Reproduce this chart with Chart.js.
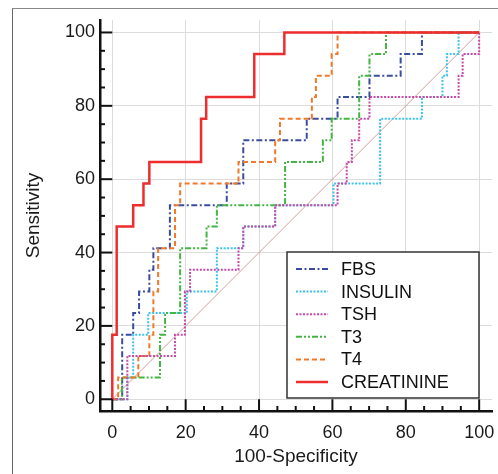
<!DOCTYPE html>
<html>
<head>
<meta charset="utf-8">
<script src="https://cdn.jsdelivr.net/npm/chart.js@4.4.0/dist/chart.umd.min.js"></script>
<style>
  body { margin: 0; background: #fff; }
  #wrap { position: relative; width: 498px; height: 474px; overflow: hidden; }
  #frame { position: absolute; left: 12px; top: 8px; width: 600px; height: 600px;
           border-left: 1.5px solid #666; border-top: 1.5px solid #888; }
  #roc { position: absolute; left: 0; top: 0; }
</style>
</head>
<body>
<div id="wrap">
  <div id="frame"></div>
  <canvas id="roc" width="498" height="474"></canvas>
</div>
<script>
// ROC points (100-Specificity, Sensitivity), step corners
const fbsX = [0, 2.7, 5.7, 7.3, 10.1, 11.2, 15.7, 31.2, 35.7, 53, 61.4, 70.1, 78.6, 84.4, 100];
const fbsY = [0, 17.6, 23.5, 29.4, 35.3, 41.2, 52.9, 58.8, 70.6, 76.5, 82.4, 88.2, 94.1, 100, 100];

const insulinX = [0, 4.1, 5.7, 9.8, 20.3, 28.5, 35.7, 44.4, 60.3, 73, 84.4, 90, 91.2, 94.4, 100];
const insulinY = [0, 5.9, 17.6, 23.5, 29.4, 41.2, 47.1, 52.9, 58.8, 76.5, 82.4, 88.2, 94.1, 100, 100];

const tshX = [0, 4.1, 17.1, 19.8, 21.2, 34.4, 35.7, 44.4, 61.4, 63.9, 65.3, 67.3, 70.1, 94.4, 95.5, 100];
const tshY = [0, 11.8, 17.6, 29.4, 35.3, 41.2, 47.1, 52.9, 58.8, 64.7, 70.6, 76.5, 82.4, 88.2, 94.1, 100];

const t3X = [0, 2.6, 13, 14.4, 18.5, 25.7, 28.5, 47.1, 57.4, 59.8, 67.3, 70.1, 74.6, 100];
const t3Y = [0, 5.9, 17.6, 23.5, 41.2, 47.1, 52.9, 64.7, 70.6, 76.5, 88.2, 94.1, 100, 100];

const t4X = [0, 1.6, 7.1, 10.1, 11.2, 12.5, 17.1, 18.5, 34.4, 44.4, 45.7, 54.4, 55.5, 59.8, 61.4, 100];
const t4Y = [0, 5.9, 11.8, 17.6, 29.4, 41.2, 52.9, 58.8, 64.7, 70.6, 76.5, 82.4, 88.2, 94.1, 100, 100];

const creatX = [0, 0, 1.2, 5.7, 8.5, 10.1, 24.2, 25.6, 38.7, 46.9, 100];
const creatY = [0, 17.6, 47.1, 52.9, 58.8, 64.7, 76.5, 82.4, 94.1, 100, 100];

const diagX = [0, 100];
const diagY = [0, 100];

const tickValues = [0, 5, 10, 15, 20, 25, 30, 35, 40, 45, 50, 55, 60, 65, 70, 75, 80, 85, 90, 95, 100];

const toPoints = (xs, ys) => xs.map((x, i) => ({ x: x, y: ys[i] }));

const FONT = "'Liberation Sans', Arial, sans-serif";

// Legend drawn inside the plot, bottom right
const insideLegend = {
  id: 'insideLegend',
  afterDatasetsDraw(chart, args, opts) {
    const ctx = chart.ctx;
    ctx.save();
    ctx.fillStyle = '#fff';
    ctx.fillRect(opts.left, opts.top, opts.width, opts.height);
    ctx.strokeStyle = '#333';
    ctx.lineWidth = 1.5;
    ctx.strokeRect(opts.left, opts.top, opts.width, opts.height);
    ctx.font = '18px ' + FONT;
    ctx.textBaseline = 'middle';
    let row = 0;
    chart.data.datasets.forEach(ds => {
      if (!ds.label) return;
      const yy = opts.top + opts.firstRow + row * opts.rowGap;
      ctx.strokeStyle = ds.borderColor;
      ctx.lineWidth = ds.borderWidth;
      ctx.setLineDash(ds.borderDash || []);
      ctx.beginPath();
      ctx.moveTo(opts.left + 9, yy);
      ctx.lineTo(opts.left + 41, yy);
      ctx.stroke();
      ctx.setLineDash([]);
      ctx.fillStyle = '#111';
      ctx.fillText(ds.label, opts.left + 54, yy + 1);
      row++;
    });
    ctx.restore();
  }
};

// Inward tick marks on both axes
const innerTicks = {
  id: 'innerTicks',
  afterDraw(chart) {
    const { ctx, scales: { x, y } } = chart;
    const majorX = x.top - y.getPixelForValue(0);
    const majorY = x.getPixelForValue(0) - y.right;
    ctx.save();
    ctx.strokeStyle = '#111';
    ctx.lineWidth = 2;
    tickValues.forEach(v => {
      const major = v % 20 === 0;
      const px = x.getPixelForValue(v);
      ctx.beginPath();
      ctx.moveTo(px, x.top);
      ctx.lineTo(px, x.top - (major ? majorX : 5));
      ctx.stroke();
      const py = y.getPixelForValue(v);
      ctx.beginPath();
      ctx.moveTo(y.right, py);
      ctx.lineTo(y.right + (major ? majorY : 5), py);
      ctx.stroke();
    });
    ctx.restore();
  }
};

const setTicks = (scale) => {
  scale.ticks = tickValues.map(v => ({ value: v }));
};

const gridColor = (c) => (c.tick && c.tick.value % 20 === 0) ? '#dcdcdc' : 'rgba(0,0,0,0)';

const line = (label, xs, ys, color, dash, width, order) => ({
  label: label,
  data: toPoints(xs, ys),
  borderColor: color,
  borderDash: dash,
  borderWidth: width,
  stepped: 'before',
  pointRadius: 0,
  fill: false,
  order: order
});

const ctx = document.getElementById('roc').getContext('2d');
const rocChart = new Chart(ctx, {
  type: 'line',
  data: {
    datasets: [
      line('FBS', fbsX, fbsY, '#3a4c9e', [6, 2.5, 2, 2.5], 2, 4),
      line('INSULIN', insulinX, insulinY, '#3fc3ee', [2, 1.5], 2, 5),
      line('TSH', tshX, tshY, '#c64aa8', [2, 1.5], 2, 1),
      line('T3', t3X, t3Y, '#45b445', [6, 2, 2, 2, 2, 2], 2, 3),
      line('T4', t4X, t4Y, '#f07a2a', [5, 3], 2, 2),
      line('CREATININE', creatX, creatY, '#ee2e2e', [], 2.5, 0),
      {
        label: '',
        data: toPoints(diagX, diagY),
        borderColor: '#d49c9c',
        borderWidth: 1,
        pointRadius: 0,
        fill: false,
        order: 6
      }
    ]
  },
  options: {
    responsive: false,
    animation: false,
    layout: { padding: { left: 12, top: 20, right: 6, bottom: 0 } },
    plugins: {
      legend: { display: false },
      tooltip: { enabled: false },
      insideLegend: { left: 287, top: 252, width: 192, height: 146, firstRow: 17, rowGap: 22.6 }
    },
    scales: {
      x: {
        type: 'linear',
        min: -3.35,
        max: 103.5,
        afterBuildTicks: setTicks,
        afterFit: (s) => { s.height = 63; s.paddingLeft = 0; s.paddingRight = 0; },
        grid: { color: gridColor, lineWidth: 1, drawTicks: false },
        border: { display: true, color: '#111', width: 2.5 },
        ticks: {
          autoSkip: false,
          maxRotation: 0,
          padding: 11,
          color: '#1a1a1a',
          font: { family: FONT, size: 18 },
          callback: (v) => v % 20 === 0 ? v : ''
        },
        title: {
          display: true,
          text: '100-Specificity',
          color: '#1a1a1a',
          font: { family: FONT, size: 19 },
          padding: { top: 0, bottom: 6 }
        }
      },
      y: {
        type: 'linear',
        min: -3.2,
        max: 103.4,
        afterBuildTicks: setTicks,
        afterFit: (s) => { s.width = 88; s.paddingTop = 0; s.paddingBottom = 0; },
        grid: { color: gridColor, lineWidth: 1, drawTicks: false },
        border: { display: true, color: '#111', width: 2.5 },
        ticks: {
          autoSkip: false,
          padding: 5,
          color: '#1a1a1a',
          font: { family: FONT, size: 18 },
          callback: (v) => v % 20 === 0 ? v : ''
        },
        title: {
          display: true,
          text: 'Sensitivity',
          color: '#1a1a1a',
          font: { family: FONT, size: 19 },
          padding: { top: 10, bottom: 0 }
        }
      }
    }
  },
  plugins: [insideLegend, innerTicks]
});
</script>
</body>
</html>
